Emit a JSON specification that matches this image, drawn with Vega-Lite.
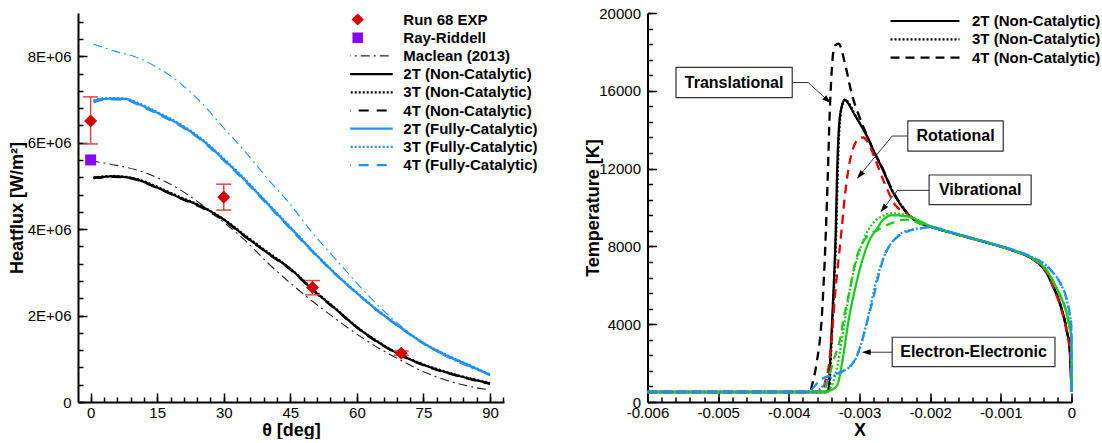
{
  "$schema": "https://vega.github.io/schema/vega-lite/v6.json",
  "background": "white",
  "padding": {"left": 8, "top": 6, "right": 0, "bottom": 0},
  "spacing": 143.5,
  "bounds": "flush",
  "resolve": {
    "scale": {"color": "independent", "strokeDash": "independent"},
    "legend": {"color": "independent", "strokeDash": "independent"}
  },
  "datasets": {
    "hf": [
      {"s":"2T (Non-Catalytic)","t":0.65,"q":5.19e6},{"s":"2T (Non-Catalytic)","t":2,"q":5.20e6},{"s":"2T (Non-Catalytic)","t":5,"q":5.22e6},{"s":"2T (Non-Catalytic)","t":8,"q":5.20e6},{"s":"2T (Non-Catalytic)","t":10,"q":5.16e6},{"s":"2T (Non-Catalytic)","t":15,"q":4.96e6},{"s":"2T (Non-Catalytic)","t":20,"q":4.73e6},{"s":"2T (Non-Catalytic)","t":25,"q":4.52e6},{"s":"2T (Non-Catalytic)","t":30,"q":4.22e6},{"s":"2T (Non-Catalytic)","t":35,"q":3.82e6},{"s":"2T (Non-Catalytic)","t":40,"q":3.44e6},{"s":"2T (Non-Catalytic)","t":45,"q":3.08e6},{"s":"2T (Non-Catalytic)","t":50,"q":2.60e6},{"s":"2T (Non-Catalytic)","t":55,"q":2.17e6},{"s":"2T (Non-Catalytic)","t":60,"q":1.73e6},{"s":"2T (Non-Catalytic)","t":65,"q":1.37e6},{"s":"2T (Non-Catalytic)","t":70,"q":1.08e6},{"s":"2T (Non-Catalytic)","t":75,"q":0.86e6},{"s":"2T (Non-Catalytic)","t":80,"q":0.69e6},{"s":"2T (Non-Catalytic)","t":85,"q":0.55e6},{"s":"2T (Non-Catalytic)","t":90,"q":0.43e6},
      {"s":"3T (Non-Catalytic)","t":0.65,"q":5.17e6},{"s":"3T (Non-Catalytic)","t":2,"q":5.21e6},{"s":"3T (Non-Catalytic)","t":5,"q":5.23e6},{"s":"3T (Non-Catalytic)","t":8,"q":5.21e6},{"s":"3T (Non-Catalytic)","t":10,"q":5.17e6},{"s":"3T (Non-Catalytic)","t":15,"q":4.98e6},{"s":"3T (Non-Catalytic)","t":20,"q":4.75e6},{"s":"3T (Non-Catalytic)","t":25,"q":4.53e6},{"s":"3T (Non-Catalytic)","t":30,"q":4.23e6},{"s":"3T (Non-Catalytic)","t":35,"q":3.84e6},{"s":"3T (Non-Catalytic)","t":40,"q":3.46e6},{"s":"3T (Non-Catalytic)","t":45,"q":3.09e6},{"s":"3T (Non-Catalytic)","t":50,"q":2.62e6},{"s":"3T (Non-Catalytic)","t":55,"q":2.18e6},{"s":"3T (Non-Catalytic)","t":60,"q":1.74e6},{"s":"3T (Non-Catalytic)","t":65,"q":1.38e6},{"s":"3T (Non-Catalytic)","t":70,"q":1.09e6},{"s":"3T (Non-Catalytic)","t":75,"q":0.87e6},{"s":"3T (Non-Catalytic)","t":80,"q":0.70e6},{"s":"3T (Non-Catalytic)","t":85,"q":0.56e6},{"s":"3T (Non-Catalytic)","t":90,"q":0.44e6},
      {"s":"4T (Non-Catalytic)","t":0.65,"q":5.21e6},{"s":"4T (Non-Catalytic)","t":2,"q":5.19e6},{"s":"4T (Non-Catalytic)","t":5,"q":5.21e6},{"s":"4T (Non-Catalytic)","t":8,"q":5.19e6},{"s":"4T (Non-Catalytic)","t":10,"q":5.15e6},{"s":"4T (Non-Catalytic)","t":15,"q":4.95e6},{"s":"4T (Non-Catalytic)","t":20,"q":4.72e6},{"s":"4T (Non-Catalytic)","t":25,"q":4.50e6},{"s":"4T (Non-Catalytic)","t":30,"q":4.20e6},{"s":"4T (Non-Catalytic)","t":35,"q":3.81e6},{"s":"4T (Non-Catalytic)","t":40,"q":3.43e6},{"s":"4T (Non-Catalytic)","t":45,"q":3.06e6},{"s":"4T (Non-Catalytic)","t":50,"q":2.59e6},{"s":"4T (Non-Catalytic)","t":55,"q":2.16e6},{"s":"4T (Non-Catalytic)","t":60,"q":1.72e6},{"s":"4T (Non-Catalytic)","t":65,"q":1.36e6},{"s":"4T (Non-Catalytic)","t":70,"q":1.07e6},{"s":"4T (Non-Catalytic)","t":75,"q":0.85e6},{"s":"4T (Non-Catalytic)","t":80,"q":0.68e6},{"s":"4T (Non-Catalytic)","t":85,"q":0.54e6},{"s":"4T (Non-Catalytic)","t":90,"q":0.42e6},
      {"s":"2T (Fully-Catalytic)","t":0.65,"q":6.95e6},{"s":"2T (Fully-Catalytic)","t":2,"q":7.00e6},{"s":"2T (Fully-Catalytic)","t":5,"q":7.02e6},{"s":"2T (Fully-Catalytic)","t":8,"q":7.01e6},{"s":"2T (Fully-Catalytic)","t":10,"q":6.93e6},{"s":"2T (Fully-Catalytic)","t":15,"q":6.69e6},{"s":"2T (Fully-Catalytic)","t":20,"q":6.42e6},{"s":"2T (Fully-Catalytic)","t":25,"q":6.07e6},{"s":"2T (Fully-Catalytic)","t":30,"q":5.61e6},{"s":"2T (Fully-Catalytic)","t":35,"q":5.11e6},{"s":"2T (Fully-Catalytic)","t":40,"q":4.57e6},{"s":"2T (Fully-Catalytic)","t":45,"q":4.03e6},{"s":"2T (Fully-Catalytic)","t":50,"q":3.49e6},{"s":"2T (Fully-Catalytic)","t":55,"q":2.98e6},{"s":"2T (Fully-Catalytic)","t":60,"q":2.52e6},{"s":"2T (Fully-Catalytic)","t":65,"q":2.09e6},{"s":"2T (Fully-Catalytic)","t":70,"q":1.71e6},{"s":"2T (Fully-Catalytic)","t":75,"q":1.36e6},{"s":"2T (Fully-Catalytic)","t":80,"q":1.09e6},{"s":"2T (Fully-Catalytic)","t":85,"q":0.86e6},{"s":"2T (Fully-Catalytic)","t":90,"q":0.63e6},
      {"s":"3T (Fully-Catalytic)","t":0.65,"q":6.98e6},{"s":"3T (Fully-Catalytic)","t":2,"q":7.02e6},{"s":"3T (Fully-Catalytic)","t":5,"q":7.03e6},{"s":"3T (Fully-Catalytic)","t":8,"q":7.02e6},{"s":"3T (Fully-Catalytic)","t":10,"q":6.95e6},{"s":"3T (Fully-Catalytic)","t":15,"q":6.71e6},{"s":"3T (Fully-Catalytic)","t":20,"q":6.44e6},{"s":"3T (Fully-Catalytic)","t":25,"q":6.09e6},{"s":"3T (Fully-Catalytic)","t":30,"q":5.63e6},{"s":"3T (Fully-Catalytic)","t":35,"q":5.13e6},{"s":"3T (Fully-Catalytic)","t":40,"q":4.59e6},{"s":"3T (Fully-Catalytic)","t":45,"q":4.05e6},{"s":"3T (Fully-Catalytic)","t":50,"q":3.50e6},{"s":"3T (Fully-Catalytic)","t":55,"q":2.99e6},{"s":"3T (Fully-Catalytic)","t":60,"q":2.53e6},{"s":"3T (Fully-Catalytic)","t":65,"q":2.10e6},{"s":"3T (Fully-Catalytic)","t":70,"q":1.72e6},{"s":"3T (Fully-Catalytic)","t":75,"q":1.37e6},{"s":"3T (Fully-Catalytic)","t":80,"q":1.10e6},{"s":"3T (Fully-Catalytic)","t":85,"q":0.87e6},{"s":"3T (Fully-Catalytic)","t":90,"q":0.64e6},
      {"s":"4T (Fully-Catalytic)","t":0.65,"q":6.93e6},{"s":"4T (Fully-Catalytic)","t":2,"q":6.98e6},{"s":"4T (Fully-Catalytic)","t":5,"q":7.00e6},{"s":"4T (Fully-Catalytic)","t":8,"q":6.99e6},{"s":"4T (Fully-Catalytic)","t":10,"q":6.91e6},{"s":"4T (Fully-Catalytic)","t":15,"q":6.67e6},{"s":"4T (Fully-Catalytic)","t":20,"q":6.40e6},{"s":"4T (Fully-Catalytic)","t":25,"q":6.05e6},{"s":"4T (Fully-Catalytic)","t":30,"q":5.59e6},{"s":"4T (Fully-Catalytic)","t":35,"q":5.09e6},{"s":"4T (Fully-Catalytic)","t":40,"q":4.55e6},{"s":"4T (Fully-Catalytic)","t":45,"q":4.01e6},{"s":"4T (Fully-Catalytic)","t":50,"q":3.47e6},{"s":"4T (Fully-Catalytic)","t":55,"q":2.97e6},{"s":"4T (Fully-Catalytic)","t":60,"q":2.51e6},{"s":"4T (Fully-Catalytic)","t":65,"q":2.08e6},{"s":"4T (Fully-Catalytic)","t":70,"q":1.70e6},{"s":"4T (Fully-Catalytic)","t":75,"q":1.35e6},{"s":"4T (Fully-Catalytic)","t":80,"q":1.08e6},{"s":"4T (Fully-Catalytic)","t":85,"q":0.85e6},{"s":"4T (Fully-Catalytic)","t":90,"q":0.62e6},
      {"s":"Maclean (2013)","t":0,"q":5.58e6},{"s":"Maclean (2013)","t":5,"q":5.49e6},{"s":"Maclean (2013)","t":10,"q":5.38e6},{"s":"Maclean (2013)","t":15,"q":5.19e6},{"s":"Maclean (2013)","t":20,"q":4.92e6},{"s":"Maclean (2013)","t":25,"q":4.57e6},{"s":"Maclean (2013)","t":30,"q":4.16e6},{"s":"Maclean (2013)","t":35,"q":3.72e6},{"s":"Maclean (2013)","t":40,"q":3.21e6},{"s":"Maclean (2013)","t":45,"q":2.75e6},{"s":"Maclean (2013)","t":50,"q":2.33e6},{"s":"Maclean (2013)","t":55,"q":1.94e6},{"s":"Maclean (2013)","t":60,"q":1.57e6},{"s":"Maclean (2013)","t":65,"q":1.24e6},{"s":"Maclean (2013)","t":70,"q":0.96e6},{"s":"Maclean (2013)","t":75,"q":0.70e6},{"s":"Maclean (2013)","t":80,"q":0.51e6},{"s":"Maclean (2013)","t":85,"q":0.37e6},{"s":"Maclean (2013)","t":90,"q":0.28e6},
      {"s":"Maclean (2013) FC","t":0.65,"q":8.28e6},{"s":"Maclean (2013) FC","t":3,"q":8.20e6},{"s":"Maclean (2013) FC","t":6,"q":8.10e6},{"s":"Maclean (2013) FC","t":10,"q":7.99e6},{"s":"Maclean (2013) FC","t":15,"q":7.74e6},{"s":"Maclean (2013) FC","t":20,"q":7.39e6},{"s":"Maclean (2013) FC","t":25,"q":6.92e6},{"s":"Maclean (2013) FC","t":30,"q":6.34e6},{"s":"Maclean (2013) FC","t":35,"q":5.77e6},{"s":"Maclean (2013) FC","t":40,"q":5.15e6},{"s":"Maclean (2013) FC","t":45,"q":4.57e6},{"s":"Maclean (2013) FC","t":50,"q":3.91e6},{"s":"Maclean (2013) FC","t":55,"q":3.33e6},{"s":"Maclean (2013) FC","t":60,"q":2.75e6},{"s":"Maclean (2013) FC","t":65,"q":2.21e6},{"s":"Maclean (2013) FC","t":70,"q":1.75e6},{"s":"Maclean (2013) FC","t":75,"q":1.36e6},{"s":"Maclean (2013) FC","t":80,"q":1.05e6},{"s":"Maclean (2013) FC","t":85,"q":0.82e6},{"s":"Maclean (2013) FC","t":90,"q":0.63e6}
    ],
    "exp": [
      {"s":"Run 68 EXP","t":0,"q":6.50e6,"lo":5.97e6,"hi":7.06e6},
      {"s":"Run 68 EXP","t":30,"q":4.74e6,"lo":4.44e6,"hi":5.04e6},
      {"s":"Run 68 EXP","t":50,"q":2.65e6,"lo":2.48e6,"hi":2.81e6},
      {"s":"Run 68 EXP","t":70,"q":1.13e6,"lo":1.08e6,"hi":1.18e6},
      {"s":"Ray-Riddell","t":0,"q":5.60e6}
    ],
    "temp": [
      {"m":"2T","c":"trans","x":-0.006,"T":515},{"m":"2T","c":"trans","x":-0.00347,"T":515},{"m":"2T","c":"trans","x":-0.00344,"T":650},{"m":"2T","c":"trans","x":-0.00341,"T":2500},{"m":"2T","c":"trans","x":-0.00338,"T":4750},{"m":"2T","c":"trans","x":-0.003334,"T":9100},{"m":"2T","c":"trans","x":-0.003315,"T":12000},{"m":"2T","c":"trans","x":-0.003287,"T":14300},{"m":"2T","c":"trans","x":-0.00325,"T":15200},{"m":"2T","c":"trans","x":-0.003207,"T":15530},{"m":"2T","c":"trans","x":-0.00315,"T":15300},{"m":"2T","c":"trans","x":-0.003089,"T":14900},{"m":"2T","c":"trans","x":-0.0029,"T":13700},{"m":"2T","c":"trans","x":-0.00278,"T":12750},{"m":"2T","c":"trans","x":-0.002665,"T":11900},{"m":"2T","c":"trans","x":-0.00255,"T":10950},{"m":"2T","c":"trans","x":-0.002429,"T":10200},{"m":"2T","c":"trans","x":-0.00234,"T":9750},{"m":"2T","c":"trans","x":-0.002195,"T":9290},{"m":"2T","c":"trans","x":-0.002,"T":9020},{"m":"2T","c":"trans","x":-0.0017,"T":8700},{"m":"2T","c":"trans","x":-0.0014,"T":8400},{"m":"2T","c":"trans","x":-0.0011,"T":8100},{"m":"2T","c":"trans","x":-0.0008,"T":7750},{"m":"2T","c":"trans","x":-0.00054,"T":7330},{"m":"2T","c":"trans","x":-0.00035,"T":6640},{"m":"2T","c":"trans","x":-0.00026,"T":5950},{"m":"2T","c":"trans","x":-0.000165,"T":5080},{"m":"2T","c":"trans","x":-0.00007,"T":3720},{"m":"2T","c":"trans","x":-0.000024,"T":2690},{"m":"2T","c":"trans","x":0,"T":550},
      {"m":"3T","c":"trans","x":-0.006,"T":515},{"m":"3T","c":"trans","x":-0.00346,"T":515},{"m":"3T","c":"trans","x":-0.00343,"T":700},{"m":"3T","c":"trans","x":-0.0034,"T":2700},{"m":"3T","c":"trans","x":-0.00337,"T":5000},{"m":"3T","c":"trans","x":-0.003325,"T":9300},{"m":"3T","c":"trans","x":-0.003305,"T":12200},{"m":"3T","c":"trans","x":-0.003278,"T":14400},{"m":"3T","c":"trans","x":-0.00324,"T":15300},{"m":"3T","c":"trans","x":-0.0032,"T":15560},{"m":"3T","c":"trans","x":-0.00314,"T":15300},{"m":"3T","c":"trans","x":-0.00308,"T":14880},{"m":"3T","c":"trans","x":-0.0029,"T":13720},{"m":"3T","c":"trans","x":-0.00278,"T":12760},{"m":"3T","c":"trans","x":-0.002665,"T":11910},{"m":"3T","c":"trans","x":-0.00255,"T":10960},{"m":"3T","c":"trans","x":-0.002429,"T":10210},{"m":"3T","c":"trans","x":-0.00234,"T":9760},{"m":"3T","c":"trans","x":-0.002195,"T":9300},{"m":"3T","c":"trans","x":-0.002,"T":9020},{"m":"3T","c":"trans","x":-0.0017,"T":8700},{"m":"3T","c":"trans","x":-0.0014,"T":8400},{"m":"3T","c":"trans","x":-0.0011,"T":8100},{"m":"3T","c":"trans","x":-0.0008,"T":7750},{"m":"3T","c":"trans","x":-0.00054,"T":7330},{"m":"3T","c":"trans","x":-0.00035,"T":6640},{"m":"3T","c":"trans","x":-0.00026,"T":5950},{"m":"3T","c":"trans","x":-0.000165,"T":5080},{"m":"3T","c":"trans","x":-0.00007,"T":3720},{"m":"3T","c":"trans","x":-0.000024,"T":2690},{"m":"3T","c":"trans","x":0,"T":550},
      {"m":"4T","c":"trans","x":-0.006,"T":515},{"m":"4T","c":"trans","x":-0.0037,"T":515},{"m":"4T","c":"trans","x":-0.003677,"T":800},{"m":"4T","c":"trans","x":-0.003607,"T":2000},{"m":"4T","c":"trans","x":-0.003536,"T":4240},{"m":"4T","c":"trans","x":-0.003475,"T":8860},{"m":"4T","c":"trans","x":-0.00345,"T":11500},{"m":"4T","c":"trans","x":-0.00342,"T":15000},{"m":"4T","c":"trans","x":-0.003395,"T":16900},{"m":"4T","c":"trans","x":-0.003372,"T":17970},{"m":"4T","c":"trans","x":-0.00334,"T":18350},{"m":"4T","c":"trans","x":-0.0033,"T":18420},{"m":"4T","c":"trans","x":-0.00326,"T":18200},{"m":"4T","c":"trans","x":-0.003219,"T":17600},{"m":"4T","c":"trans","x":-0.003183,"T":17050},{"m":"4T","c":"trans","x":-0.003146,"T":16400},{"m":"4T","c":"trans","x":-0.003089,"T":15570},{"m":"4T","c":"trans","x":-0.00303,"T":14950},{"m":"4T","c":"trans","x":-0.0029,"T":13750},{"m":"4T","c":"trans","x":-0.00278,"T":12780},{"m":"4T","c":"trans","x":-0.002665,"T":11950},{"m":"4T","c":"trans","x":-0.00255,"T":11000},{"m":"4T","c":"trans","x":-0.002429,"T":10250},{"m":"4T","c":"trans","x":-0.00234,"T":9780},{"m":"4T","c":"trans","x":-0.002195,"T":9310},{"m":"4T","c":"trans","x":-0.002,"T":9020},{"m":"4T","c":"trans","x":-0.0017,"T":8700},{"m":"4T","c":"trans","x":-0.0014,"T":8400},{"m":"4T","c":"trans","x":-0.0011,"T":8100},{"m":"4T","c":"trans","x":-0.0008,"T":7750},{"m":"4T","c":"trans","x":-0.00054,"T":7330},{"m":"4T","c":"trans","x":-0.00035,"T":6640},{"m":"4T","c":"trans","x":-0.00026,"T":5950},{"m":"4T","c":"trans","x":-0.000165,"T":5080},{"m":"4T","c":"trans","x":-0.00007,"T":3720},{"m":"4T","c":"trans","x":-0.000024,"T":2690},{"m":"4T","c":"trans","x":0,"T":550},
      {"m":"4T","c":"rot","x":-0.006,"T":515},{"m":"4T","c":"rot","x":-0.00352,"T":515},{"m":"4T","c":"rot","x":-0.00349,"T":980},{"m":"4T","c":"rot","x":-0.003443,"T":1660},{"m":"4T","c":"rot","x":-0.003395,"T":3210},{"m":"4T","c":"rot","x":-0.003348,"T":5440},{"m":"4T","c":"rot","x":-0.003301,"T":7160},{"m":"4T","c":"rot","x":-0.003253,"T":8860},{"m":"4T","c":"rot","x":-0.00321,"T":10500},{"m":"4T","c":"rot","x":-0.00316,"T":11900},{"m":"4T","c":"rot","x":-0.003073,"T":13200},{"m":"4T","c":"rot","x":-0.00299,"T":13580},{"m":"4T","c":"rot","x":-0.002948,"T":13600},{"m":"4T","c":"rot","x":-0.002877,"T":13330},{"m":"4T","c":"rot","x":-0.00278,"T":12500},{"m":"4T","c":"rot","x":-0.002634,"T":11150},{"m":"4T","c":"rot","x":-0.002488,"T":10100},{"m":"4T","c":"rot","x":-0.00234,"T":9720},{"m":"4T","c":"rot","x":-0.002195,"T":9330},{"m":"4T","c":"rot","x":-0.002,"T":9030},{"m":"4T","c":"rot","x":-0.0017,"T":8710},{"m":"4T","c":"rot","x":-0.0014,"T":8400},{"m":"4T","c":"rot","x":-0.0011,"T":8100},{"m":"4T","c":"rot","x":-0.0008,"T":7750},{"m":"4T","c":"rot","x":-0.00054,"T":7330},{"m":"4T","c":"rot","x":-0.00035,"T":6600},{"m":"4T","c":"rot","x":-0.00026,"T":5900},{"m":"4T","c":"rot","x":-0.000165,"T":5000},{"m":"4T","c":"rot","x":-0.00007,"T":3650},{"m":"4T","c":"rot","x":-0.000024,"T":2600},{"m":"4T","c":"rot","x":0,"T":550},
      {"m":"2T","c":"vib","x":-0.006,"T":515},{"m":"2T","c":"vib","x":-0.00346,"T":515},{"m":"2T","c":"vib","x":-0.003443,"T":550},{"m":"2T","c":"vib","x":-0.003324,"T":800},{"m":"2T","c":"vib","x":-0.003231,"T":2350},{"m":"2T","c":"vib","x":-0.00316,"T":4070},{"m":"2T","c":"vib","x":-0.003065,"T":5780},{"m":"2T","c":"vib","x":-0.00297,"T":7160},{"m":"2T","c":"vib","x":-0.002853,"T":8360},{"m":"2T","c":"vib","x":-0.002758,"T":8870},{"m":"2T","c":"vib","x":-0.002683,"T":9300},{"m":"2T","c":"vib","x":-0.002536,"T":9600},{"m":"2T","c":"vib","x":-0.002341,"T":9550},{"m":"2T","c":"vib","x":-0.002146,"T":9290},{"m":"2T","c":"vib","x":-0.002,"T":9040},{"m":"2T","c":"vib","x":-0.0017,"T":8700},{"m":"2T","c":"vib","x":-0.0014,"T":8400},{"m":"2T","c":"vib","x":-0.0011,"T":8100},{"m":"2T","c":"vib","x":-0.0008,"T":7760},{"m":"2T","c":"vib","x":-0.00054,"T":7360},{"m":"2T","c":"vib","x":-0.00035,"T":6760},{"m":"2T","c":"vib","x":-0.00026,"T":6200},{"m":"2T","c":"vib","x":-0.000165,"T":5500},{"m":"2T","c":"vib","x":-0.00007,"T":4600},{"m":"2T","c":"vib","x":-0.000024,"T":3800},{"m":"2T","c":"vib","x":-0.000003,"T":3400},{"m":"2T","c":"vib","x":0,"T":550},
      {"m":"3T","c":"vib","x":-0.006,"T":515},{"m":"3T","c":"vib","x":-0.00348,"T":515},{"m":"3T","c":"vib","x":-0.0034,"T":800},{"m":"3T","c":"vib","x":-0.0033,"T":2100},{"m":"3T","c":"vib","x":-0.00322,"T":3900},{"m":"3T","c":"vib","x":-0.00313,"T":5900},{"m":"3T","c":"vib","x":-0.00303,"T":7400},{"m":"3T","c":"vib","x":-0.00293,"T":8450},{"m":"3T","c":"vib","x":-0.00283,"T":9100},{"m":"3T","c":"vib","x":-0.00268,"T":9550},{"m":"3T","c":"vib","x":-0.00254,"T":9700},{"m":"3T","c":"vib","x":-0.00234,"T":9620},{"m":"3T","c":"vib","x":-0.00215,"T":9320},{"m":"3T","c":"vib","x":-0.002,"T":9040},{"m":"3T","c":"vib","x":-0.0017,"T":8700},{"m":"3T","c":"vib","x":-0.0014,"T":8400},{"m":"3T","c":"vib","x":-0.0011,"T":8100},{"m":"3T","c":"vib","x":-0.0008,"T":7760},{"m":"3T","c":"vib","x":-0.00054,"T":7360},{"m":"3T","c":"vib","x":-0.00035,"T":6760},{"m":"3T","c":"vib","x":-0.00026,"T":6200},{"m":"3T","c":"vib","x":-0.000165,"T":5500},{"m":"3T","c":"vib","x":-0.00007,"T":4600},{"m":"3T","c":"vib","x":-0.000024,"T":3800},{"m":"3T","c":"vib","x":-0.000003,"T":3400},{"m":"3T","c":"vib","x":0,"T":550},
      {"m":"4T","c":"vib","x":-0.006,"T":515},{"m":"4T","c":"vib","x":-0.00352,"T":515},{"m":"4T","c":"vib","x":-0.00345,"T":1100},{"m":"4T","c":"vib","x":-0.00337,"T":2100},{"m":"4T","c":"vib","x":-0.003277,"T":3210},{"m":"4T","c":"vib","x":-0.003219,"T":4400},{"m":"4T","c":"vib","x":-0.003136,"T":5780},{"m":"4T","c":"vib","x":-0.003073,"T":6980},{"m":"4T","c":"vib","x":-0.002927,"T":8350},{"m":"4T","c":"vib","x":-0.00273,"T":8870},{"m":"4T","c":"vib","x":-0.002536,"T":9210},{"m":"4T","c":"vib","x":-0.00234,"T":9380},{"m":"4T","c":"vib","x":-0.0021,"T":9120},{"m":"4T","c":"vib","x":-0.002,"T":9040},{"m":"4T","c":"vib","x":-0.0017,"T":8700},{"m":"4T","c":"vib","x":-0.0014,"T":8400},{"m":"4T","c":"vib","x":-0.0011,"T":8100},{"m":"4T","c":"vib","x":-0.0008,"T":7760},{"m":"4T","c":"vib","x":-0.00054,"T":7360},{"m":"4T","c":"vib","x":-0.00035,"T":6760},{"m":"4T","c":"vib","x":-0.00026,"T":6200},{"m":"4T","c":"vib","x":-0.000165,"T":5500},{"m":"4T","c":"vib","x":-0.00007,"T":4600},{"m":"4T","c":"vib","x":-0.000024,"T":3800},{"m":"4T","c":"vib","x":-0.000003,"T":3400},{"m":"4T","c":"vib","x":0,"T":550},
      {"m":"3T","c":"elec","x":-0.006,"T":515},{"m":"3T","c":"elec","x":-0.00362,"T":515},{"m":"3T","c":"elec","x":-0.00355,"T":700},{"m":"3T","c":"elec","x":-0.00345,"T":1100},{"m":"3T","c":"elec","x":-0.00334,"T":1400},{"m":"3T","c":"elec","x":-0.00322,"T":1600},{"m":"3T","c":"elec","x":-0.0031,"T":1950},{"m":"3T","c":"elec","x":-0.003,"T":2700},{"m":"3T","c":"elec","x":-0.00291,"T":3900},{"m":"3T","c":"elec","x":-0.00284,"T":5000},{"m":"3T","c":"elec","x":-0.00277,"T":6100},{"m":"3T","c":"elec","x":-0.0027,"T":7000},{"m":"3T","c":"elec","x":-0.00262,"T":7750},{"m":"3T","c":"elec","x":-0.00252,"T":8300},{"m":"3T","c":"elec","x":-0.0024,"T":8700},{"m":"3T","c":"elec","x":-0.00224,"T":8870},{"m":"3T","c":"elec","x":-0.0021,"T":8950},{"m":"3T","c":"elec","x":-0.002,"T":9000},{"m":"3T","c":"elec","x":-0.0017,"T":8720},{"m":"3T","c":"elec","x":-0.0014,"T":8420},{"m":"3T","c":"elec","x":-0.0011,"T":8120},{"m":"3T","c":"elec","x":-0.0008,"T":7790},{"m":"3T","c":"elec","x":-0.00054,"T":7420},{"m":"3T","c":"elec","x":-0.00035,"T":7000},{"m":"3T","c":"elec","x":-0.00026,"T":6650},{"m":"3T","c":"elec","x":-0.000165,"T":6150},{"m":"3T","c":"elec","x":-0.00007,"T":5300},{"m":"3T","c":"elec","x":-0.000024,"T":4500},{"m":"3T","c":"elec","x":-0.000003,"T":3900},{"m":"3T","c":"elec","x":0,"T":550},
      {"m":"4T","c":"elec","x":-0.006,"T":515},{"m":"4T","c":"elec","x":-0.00372,"T":515},{"m":"4T","c":"elec","x":-0.00364,"T":800},{"m":"4T","c":"elec","x":-0.00355,"T":1150},{"m":"4T","c":"elec","x":-0.00342,"T":1350},{"m":"4T","c":"elec","x":-0.0033,"T":1500},{"m":"4T","c":"elec","x":-0.00318,"T":1700},{"m":"4T","c":"elec","x":-0.00306,"T":2200},{"m":"4T","c":"elec","x":-0.00296,"T":3200},{"m":"4T","c":"elec","x":-0.00288,"T":4300},{"m":"4T","c":"elec","x":-0.0028,"T":5400},{"m":"4T","c":"elec","x":-0.00273,"T":6500},{"m":"4T","c":"elec","x":-0.00266,"T":7400},{"m":"4T","c":"elec","x":-0.00258,"T":8000},{"m":"4T","c":"elec","x":-0.00246,"T":8500},{"m":"4T","c":"elec","x":-0.0023,"T":8800},{"m":"4T","c":"elec","x":-0.0021,"T":8950},{"m":"4T","c":"elec","x":-0.002,"T":9000},{"m":"4T","c":"elec","x":-0.0017,"T":8720},{"m":"4T","c":"elec","x":-0.0014,"T":8420},{"m":"4T","c":"elec","x":-0.0011,"T":8120},{"m":"4T","c":"elec","x":-0.0008,"T":7790},{"m":"4T","c":"elec","x":-0.00054,"T":7420},{"m":"4T","c":"elec","x":-0.00035,"T":7000},{"m":"4T","c":"elec","x":-0.00026,"T":6650},{"m":"4T","c":"elec","x":-0.000165,"T":6150},{"m":"4T","c":"elec","x":-0.00007,"T":5300},{"m":"4T","c":"elec","x":-0.000024,"T":4500},{"m":"4T","c":"elec","x":-0.000003,"T":3900},{"m":"4T","c":"elec","x":0,"T":550}
    ],
    "boxes": [
      {"label":"Translational","x1":-0.005597,"x2":-0.003952,"y1":15650,"y2":17200,"cx":-0.0047745,"cy":16425},
      {"label":"Rotational","x1":-0.002317,"x2":-0.000966,"y1":12900,"y2":14450,"cx":-0.0016415,"cy":13675},
      {"label":"Vibrational","x1":-0.002015,"x2":-0.000571,"y1":10150,"y2":11670,"cx":-0.001293,"cy":10910},
      {"label":"Electron-Electronic","x1":-0.002537,"x2":-0.000234,"y1":1820,"y2":3330,"cx":-0.0013855,"cy":2575}
    ],
    "links": [
      {"label":"Translational","x":-0.003952,"T":16425},{"label":"Translational","x":-0.003726,"T":16425},{"label":"Translational","x":-0.00346,"T":15540},
      {"label":"Rotational","x":-0.002317,"T":13675},{"label":"Rotational","x":-0.002537,"T":13675},{"label":"Rotational","x":-0.002989,"T":11690},
      {"label":"Vibrational","x":-0.002015,"T":10880},{"label":"Vibrational","x":-0.002463,"T":10880},{"label":"Vibrational","x":-0.002658,"T":9970},
      {"label":"Electron-Electronic","x":-0.002537,"T":2560},{"label":"Electron-Electronic","x":-0.002894,"T":2560}
    ],
    "heads": [
      {"label":"Translational","x":-0.00346,"T":15540},
      {"label":"Rotational","x":-0.002989,"T":11690},
      {"label":"Vibrational","x":-0.002658,"T":9970},
      {"label":"Electron-Electronic","x":-0.002894,"T":2560}
    ]
  },
  "hconcat": [
    {
      "width": 426,
      "height": 389,
      "layer": [
        {
          "data": {"name": "hf"},
          "transform": [{"filter": "indexof(datum.s, 'Maclean') < 0"}],
          "mark": {"type": "line", "interpolate": "monotone", "strokeWidth": 2.2, "strokeCap": "butt"},
          "encoding": {
            "x": {"field": "t", "type": "quantitative", "scale": {"domain": [-2.85, 93.15], "nice": false, "zero": false},
              "axis": {"orient": "bottom", "values": [0,15,30,45,60,75,90], "tickSize": -9, "labelPadding": 12, "title": "θ [deg]", "titlePadding": 1}},
            "y": {"field": "q", "type": "quantitative", "scale": {"domain": [0, 9000000], "nice": false},
              "axis": {"orient": "left", "values": [0,2000000,4000000,6000000,8000000], "tickSize": -9, "labelPadding": 16,
                       "labelExpr": "datum.value == 0 ? '0' : (datum.value / 1000000) + 'E+06'", "title": "Heatflux [W/m²]", "titlePadding": 1}},
            "color": {"field": "s", "type": "nominal",
              "scale": {"domain": ["Run 68 EXP","Ray-Riddell","Maclean (2013)","2T (Non-Catalytic)","3T (Non-Catalytic)","4T (Non-Catalytic)","2T (Fully-Catalytic)","3T (Fully-Catalytic)","4T (Fully-Catalytic)","Maclean (2013) FC"],
                        "range": ["#d40000","#8a00ff","#222222","#000000","#000000","#000000","#1e90ff","#1e90ff","#1e90ff","#1e90ff"]},
              "legend": {
                "orient": "none", "legendX": 272.2, "legendY": -1.5, "title": null, "padding": 0,
                "clipHeight": 16, "rowPadding": 2.2, "symbolSize": 4900, "symbolType": "stroke", "labelOffset": 38.1,
                "values": ["Run 68 EXP","Ray-Riddell","Maclean (2013)","2T (Non-Catalytic)","3T (Non-Catalytic)","4T (Non-Catalytic)","2T (Fully-Catalytic)","3T (Fully-Catalytic)","4T (Fully-Catalytic)"],
                "encode": {"symbols": {
                  "update": {
                    "shape": {"signal": "datum.value === 'Run 68 EXP' ? 'diamond' : datum.value === 'Ray-Riddell' ? 'square' : 'stroke'"},
                    "size": {"signal": "datum.value === 'Run 68 EXP' ? 150 : datum.value === 'Ray-Riddell' ? 110 : 4900"},
                    "fill": {"signal": "datum.value === 'Run 68 EXP' ? '#d40000' : datum.value === 'Ray-Riddell' ? '#8a00ff' : 'transparent'"},
                    "stroke": {"signal": "datum.value === 'Run 68 EXP' ? '#d40000' : datum.value === 'Ray-Riddell' ? '#8a00ff' : datum.value === 'Maclean (2013)' ? '#666666' : indexof(datum.value, 'Fully') >= 0 ? '#1e90ff' : '#000000'"},
                    "strokeWidth": {"signal": "datum.value === 'Run 68 EXP' || datum.value === 'Ray-Riddell' ? 0 : datum.value === 'Maclean (2013)' ? 1.2 : 2.2"},
                    "strokeDash": {"signal": "indexof(datum.value, '3T') === 0 ? [2,2] : indexof(datum.value, '4T') === 0 ? [10,8] : datum.value === 'Maclean (2013)' ? [9,4,2,4] : [1,0]"},
                    "opacity": {"value": 1}
                  }
                }}
              }},
            "strokeDash": {"field": "s", "type": "nominal", "legend": null,
              "scale": {"domain": ["Run 68 EXP","Ray-Riddell","Maclean (2013)","2T (Non-Catalytic)","3T (Non-Catalytic)","4T (Non-Catalytic)","2T (Fully-Catalytic)","3T (Fully-Catalytic)","4T (Fully-Catalytic)","Maclean (2013) FC"],
                        "range": [[1,0],[1,0],[9,4,2,4],[1,0],[2,2],[10,8],[1,0],[2,2],[10,8],[9,4,2,4]]}}
          }
        },
        {
          "data": {"name": "hf"},
          "transform": [{"filter": {"field": "s", "oneOf": ["Maclean (2013)", "Maclean (2013) FC"]}}],
          "mark": {"type": "line", "interpolate": "monotone", "strokeWidth": 1.1, "strokeCap": "butt"},
          "encoding": {
            "x": {"field": "t", "type": "quantitative", "axis": null},
            "y": {"field": "q", "type": "quantitative", "axis": null},
            "color": {"field": "s", "type": "nominal"},
            "strokeDash": {"field": "s", "type": "nominal", "legend": null}
          }
        },
        {
          "data": {"name": "exp"},
          "transform": [{"filter": "datum.s === 'Run 68 EXP'"}],
          "mark": {"type": "rule", "color": "#e04848", "strokeWidth": 1.5},
          "encoding": {
            "x": {"field": "t", "type": "quantitative",
              "axis": {"orient": "bottom", "values": [0,3,6,9,12,15,18,21,24,27,30,33,36,39,42,45,48,51,54,57,60,63,66,69,72,75,78,81,84,87,90,93], "tickSize": -5, "labels": false, "domain": false, "title": null}},
            "y": {"field": "lo", "type": "quantitative",
              "axis": {"orient": "left", "values": [0,400000,800000,1200000,1600000,2000000,2400000,2800000,3200000,3600000,4000000,4400000,4800000,5200000,5600000,6000000,6400000,6800000,7200000,7600000,8000000,8400000,8800000], "tickSize": -5, "labels": false, "domain": false, "title": null}},
            "y2": {"field": "hi"}
          }
        },
        {
          "data": {"name": "exp"},
          "transform": [{"filter": "datum.s === 'Run 68 EXP'"}, {"fold": ["lo", "hi"], "as": ["end", "v"]}],
          "mark": {"type": "tick", "orient": "horizontal", "color": "#e04848", "size": 15, "thickness": 1.5, "opacity": 1},
          "encoding": {
            "x": {"field": "t", "type": "quantitative", "axis": null},
            "y": {"field": "v", "type": "quantitative", "axis": null}
          }
        },
        {
          "data": {"name": "exp"},
          "transform": [{"filter": "datum.s === 'Run 68 EXP'"}],
          "mark": {"type": "point", "shape": "diamond", "filled": true, "color": "#d40000", "opacity": 1, "size": 170},
          "encoding": {
            "x": {"field": "t", "type": "quantitative", "axis": null},
            "y": {"field": "q", "type": "quantitative", "axis": null}
          }
        },
        {
          "data": {"name": "exp"},
          "transform": [{"filter": "datum.s === 'Ray-Riddell'"}],
          "mark": {"type": "point", "shape": "square", "filled": true, "color": "#8a00ff", "opacity": 1, "size": 121},
          "encoding": {
            "x": {"field": "t", "type": "quantitative", "axis": null},
            "y": {"field": "q", "type": "quantitative", "axis": null}
          }
        }
      ],
      "resolve": {"axis": {"x": "independent", "y": "independent"}}
    },
    {
      "width": 424,
      "height": 389,
      "layer": [
        {
          "data": {"name": "temp"},
          "mark": {"type": "line", "interpolate": "monotone", "strokeWidth": 2.3, "strokeCap": "butt"},
          "encoding": {
            "x": {"field": "x", "type": "quantitative", "scale": {"domain": [-0.006, 0], "nice": false, "zero": false},
              "axis": {"orient": "bottom", "values": [-0.006,-0.005,-0.004,-0.003,-0.002,-0.001,0], "tickSize": -9, "labelPadding": 12,
                       "labelExpr": "datum.value == 0 ? '0' : '-0.00' + round(-datum.value * 1000)", "title": "X", "titlePadding": 1}},
            "y": {"field": "T", "type": "quantitative", "scale": {"domain": [0, 20000], "nice": false},
              "axis": {"orient": "left", "values": [0,4000,8000,12000,16000,20000], "tickSize": -9, "labelPadding": 16, "format": "d",
                       "title": "Temperature [K]", "titlePadding": -4}},
            "color": {"field": "c", "type": "nominal", "legend": null,
              "scale": {"domain": ["trans", "rot", "vib", "elec"], "range": ["#000000", "#e00000", "#22c822", "#1e90ff"]}},
            "strokeDash": {"field": "m", "type": "nominal",
              "scale": {"domain": ["2T", "3T", "4T"], "range": [[1,0],[2,2],[9,6]]},
              "legend": {
                "orient": "none", "legendX": 241.5, "legendY": 0, "title": null, "padding": 0,
                "clipHeight": 16, "rowPadding": 2.3, "symbolSize": 4761, "symbolType": "stroke", "labelOffset": 11,
                "labelExpr": "datum.label + ' (Non-Catalytic)'",
                "encode": {"symbols": {"update": {"stroke": {"value": "#000000"}, "strokeWidth": {"value": 2.2}, "opacity": {"value": 1}}}}
              }}
          }
        },
        {
          "data": {"name": "links"},
          "mark": {"type": "line", "color": "#333333", "strokeWidth": 1},
          "encoding": {
            "x": {"field": "x", "type": "quantitative",
              "axis": {"orient": "bottom", "values": [-0.006,-0.0058,-0.0056,-0.0054,-0.0052,-0.005,-0.0048,-0.0046,-0.0044,-0.0042,-0.004,-0.0038,-0.0036,-0.0034,-0.0032,-0.003,-0.0028,-0.0026,-0.0024,-0.0022,-0.002,-0.0018,-0.0016,-0.0014,-0.0012,-0.001,-0.0008,-0.0006,-0.0004,-0.0002,0], "tickSize": -5, "labels": false, "domain": false, "title": null}},
            "y": {"field": "T", "type": "quantitative",
              "axis": {"orient": "left", "values": [0,800,1600,2400,3200,4000,4800,5600,6400,7200,8000,8800,9600,10400,11200,12000,12800,13600,14400,15200,16000,16800,17600,18400,19200,20000], "tickSize": -5, "labels": false, "domain": false, "title": null}},
            "detail": {"field": "label", "type": "nominal"}
          }
        },
        {
          "data": {"name": "boxes"},
          "mark": {"type": "rect", "fill": "#ffffff", "stroke": "#333333", "strokeWidth": 1.2},
          "encoding": {
            "x": {"field": "x1", "type": "quantitative", "axis": null},
            "x2": {"field": "x2"},
            "y": {"field": "y1", "type": "quantitative", "axis": null},
            "y2": {"field": "y2"}
          }
        },
        {
          "data": {"name": "boxes"},
          "mark": {"type": "text", "font": "Liberation Sans", "fontSize": 16, "fontWeight": "bold", "color": "#000000", "align": "center", "baseline": "middle"},
          "encoding": {
            "x": {"field": "cx", "type": "quantitative", "axis": null},
            "y": {"field": "cy", "type": "quantitative", "axis": null},
            "text": {"field": "label"}
          }
        },
        {
          "data": {"name": "heads"},
          "transform": [{"filter": "datum.label === 'Translational'"}],
          "mark": {"type": "point", "shape": "M0,-1L0.55,0.7L-0.55,0.7Z", "filled": true, "color": "#000000", "opacity": 1, "size": 110, "angle": 132.7},
          "encoding": {"x": {"field": "x", "type": "quantitative", "axis": null}, "y": {"field": "T", "type": "quantitative", "axis": null}}
        },
        {
          "data": {"name": "heads"},
          "transform": [{"filter": "datum.label === 'Rotational'"}],
          "mark": {"type": "point", "shape": "M0,-1L0.55,0.7L-0.55,0.7Z", "filled": true, "color": "#000000", "opacity": 1, "size": 110, "angle": 219.5},
          "encoding": {"x": {"field": "x", "type": "quantitative", "axis": null}, "y": {"field": "T", "type": "quantitative", "axis": null}}
        },
        {
          "data": {"name": "heads"},
          "transform": [{"filter": "datum.label === 'Vibrational'"}],
          "mark": {"type": "point", "shape": "M0,-1L0.55,0.7L-0.55,0.7Z", "filled": true, "color": "#000000", "opacity": 1, "size": 110, "angle": 218.1},
          "encoding": {"x": {"field": "x", "type": "quantitative", "axis": null}, "y": {"field": "T", "type": "quantitative", "axis": null}}
        },
        {
          "data": {"name": "heads"},
          "transform": [{"filter": "datum.label === 'Electron-Electronic'"}],
          "mark": {"type": "point", "shape": "M0,-1L0.55,0.7L-0.55,0.7Z", "filled": true, "color": "#000000", "opacity": 1, "size": 110, "angle": 270},
          "encoding": {"x": {"field": "x", "type": "quantitative", "axis": null}, "y": {"field": "T", "type": "quantitative", "axis": null}}
        }
      ],
      "resolve": {"axis": {"x": "independent", "y": "independent"}}
    }
  ],
  "config": {
    "view": {"stroke": null},
    "font": "Liberation Sans",
    "axis": {
      "domainColor": "#000000", "domainWidth": 2, "tickColor": "#000000", "tickWidth": 1.5,
      "labelFont": "Liberation Sans", "labelFontSize": 15, "labelColor": "#000000",
      "titleFont": "Liberation Sans", "titleFontSize": 18, "titleFontWeight": "bold", "titleColor": "#000000",
      "grid": false, "labelFlush": false, "labelOverlap": false
    },
    "legend": {
      "labelFont": "Liberation Sans", "labelFontSize": 15, "labelFontWeight": "bold", "labelColor": "#000000", "labelLimit": 0
    }
  }
}
